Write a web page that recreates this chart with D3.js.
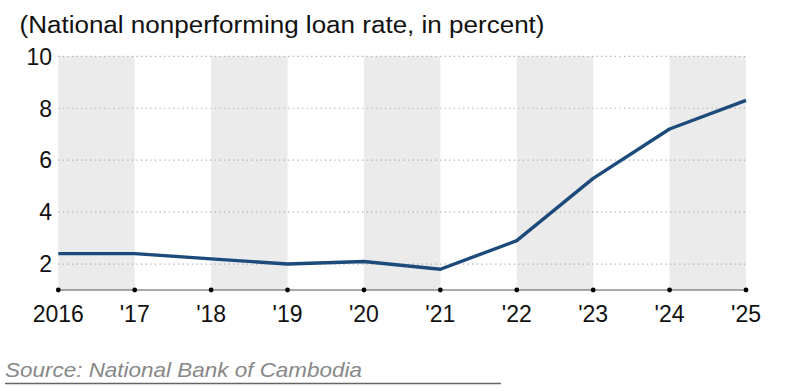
<!DOCTYPE html>
<html><head><meta charset="utf-8">
<script src="https://cdn.jsdelivr.net/npm/d3@7"></script>
<style>body{margin:0;background:#fff}svg{display:block;font-family:"Liberation Sans",Arial,sans-serif}</style>
</head><body>
<svg id="c" width="810" height="391"></svg>
<script>
const years = ["2016","'17","'18","'19","'20","'21","'22","'23","'24","'25"];
const nplRate = [2.4, 2.4, 2.2, 2.0, 2.1, 1.8, 2.9, 5.3, 7.2, 8.3];
const yTicks = [2, 4, 6, 8, 10];
const title = "(National nonperforming loan rate, in percent)";
const source = "Source: National Bank of Cambodia";

const svg = d3.select("#c");
const x = d3.scalePoint().domain(years).range([58.3, 746]);
const y = d3.scaleLinear().domain([1, 10]).range([290, 56.3]);

// shaded bands
const bandPairs = [];
for (let i = 0; i + 1 < years.length; i += 2) bandPairs.push([years[i], years[i+1]]);
svg.append("g").selectAll("rect").data(bandPairs).join("rect")
  .attr("x", d => x(d[0])).attr("width", d => x(d[1]) - x(d[0]))
  .attr("y", y(10)).attr("height", y(1) - y(10))
  .attr("fill", "#ebebeb");

// gridlines
svg.append("g").selectAll("line").data(yTicks).join("line")
  .attr("x1", x(years[0])).attr("x2", x(years[years.length-1]))
  .attr("y1", d => y(d)).attr("y2", d => y(d))
  .attr("stroke", "#aaa").attr("stroke-width", 1.2).attr("stroke-dasharray", "1.2,3.4");

// y labels
svg.append("g").selectAll("text").data(yTicks).join("text")
  .attr("x", 52).attr("y", d => y(d)).attr("dy", "0.36em")
  .attr("text-anchor", "end").attr("font-size", 23).attr("fill", "#111")
  .text(d => d);

// x axis
svg.append("line").attr("x1", x(years[0])).attr("x2", x(years[years.length-1]))
  .attr("y1", y(1)).attr("y2", y(1)).attr("stroke", "#555").attr("stroke-width", 1);
svg.append("g").selectAll("circle").data(years).join("circle")
  .attr("cx", d => x(d)).attr("cy", y(1)).attr("r", 2.4).attr("fill", "#000");
svg.append("g").selectAll("text").data(years).join("text")
  .attr("x", d => x(d)).attr("y", 321.5)
  .attr("text-anchor", "middle").attr("font-size", 23).attr("fill", "#111")
  .text(d => d);

// line
svg.append("path").datum(nplRate)
  .attr("d", d3.line().x((d, i) => x(years[i])).y(d => y(d)))
  .attr("fill", "none").attr("stroke", "#1c4a7b").attr("stroke-width", 3.4)
  .attr("stroke-linejoin", "round");

// title
svg.append("text").attr("x", 19.5).attr("y", 32.7).attr("font-size", 23).attr("fill", "#111")
  .attr("textLength", 525).attr("lengthAdjust", "spacingAndGlyphs").text(title);

// source
svg.append("text").attr("x", 5).attr("y", 377).attr("font-size", 21).attr("font-style", "italic")
  .attr("fill", "#888").attr("textLength", 357).attr("lengthAdjust", "spacingAndGlyphs").text(source);
svg.append("line").attr("x1", 5).attr("x2", 501).attr("y1", 383.5).attr("y2", 383.5)
  .attr("stroke", "#666").attr("stroke-width", 1.5);
</script>
</body></html>
